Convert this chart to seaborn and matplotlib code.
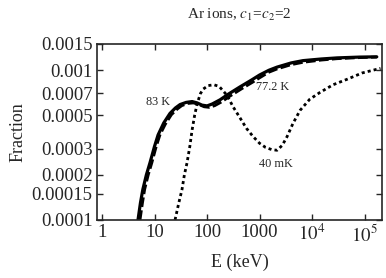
import matplotlib
matplotlib.use("Agg")
import matplotlib.pyplot as plt
import matplotlib.ticker as mticker
import seaborn as sns
import pandas as pd

# 83 K (solid)
e_83 = [4.85, 5.4, 6.0, 7.0, 8.2, 10, 11.7, 15, 19.7, 25, 30.6, 40, 52, 65, 80, 100, 125,
        177, 250, 425, 700, 1000, 1500, 2150, 4000, 6700, 15000, 30000, 80000, 170000]
f_83 = [1.0e-4, 1.3e-4, 1.6e-4, 2.0e-4, 2.41e-4, 3.1e-4, 3.7e-4, 4.45e-4, 5.15e-4, 5.6e-4, 5.9e-4,
        6.1e-4, 6.18e-4, 6.05e-4, 5.85e-4, 5.78e-4, 5.95e-4, 6.35e-4, 6.9e-4, 7.75e-4, 8.6e-4,
        9.3e-4, 1.0e-3, 1.05e-3, 1.12e-3, 1.16e-3, 1.19e-3, 1.21e-3, 1.225e-3, 1.23e-3]

# 77.2 K (dashed)
e_77 = [5.3, 5.9, 6.5, 7.6, 8.9, 10.8, 12.7, 16, 21, 27, 33, 43, 55, 70, 88, 110, 140,
        190, 270, 450, 750, 1000, 1500, 2150, 4000, 6700, 15000, 30000, 80000, 170000]
f_77 = [1.0e-4, 1.3e-4, 1.6e-4, 2.0e-4, 2.41e-4, 3.1e-4, 3.7e-4, 4.35e-4, 5.05e-4, 5.5e-4, 5.8e-4,
        6.0e-4, 6.05e-4, 5.9e-4, 5.7e-4, 5.65e-4, 5.8e-4, 6.15e-4, 6.7e-4, 7.5e-4, 8.35e-4,
        8.9e-4, 9.7e-4, 1.02e-3, 1.09e-3, 1.13e-3, 1.17e-3, 1.195e-3, 1.215e-3, 1.225e-3]

# 40 mK (dotted)
e_40 = [24.6, 29, 33.4, 37, 41.6, 47, 52, 58, 65, 75, 85, 105, 135, 170, 240, 313, 425, 560,
        755, 1000, 1300, 1700, 2150, 2700, 3330, 4300, 5900, 9000, 14000, 25000, 46000, 90000, 200000]
f_40 = [1.0e-4, 1.3e-4, 1.6e-4, 2.0e-4, 2.41e-4, 3.1e-4, 4.0e-4, 5.0e-4, 6.0e-4, 7.0e-4, 7.5e-4,
        7.9e-4, 8.0e-4, 7.8e-4, 6.8e-4, 5.7e-4, 4.8e-4, 4.1e-4, 3.6e-4, 3.25e-4, 3.05e-4, 2.95e-4,
        2.92e-4, 3.15e-4, 3.6e-4, 4.4e-4, 5.4e-4, 6.4e-4, 7.1e-4, 8.0e-4, 8.7e-4, 9.6e-4, 1.03e-3]

x_ticks = [1, 10, 100, 1000, 1e4, 1e5]
x_labels = ["1", "10", "100", "1000", r"$10^4$", r"$10^5$"]
y_ticks = [0.0001, 0.00015, 0.0002, 0.0003, 0.0005, 0.0007, 0.001, 0.0015]
y_labels = ["0.0001", "0.00015", "0.0002", "0.0003", "0.0005", "0.0007", "0.001", "0.0015"]

sns.set_style("ticks")
plt.rcParams["font.family"] = ["Liberation Serif", "DejaVu Serif"]
plt.rcParams["mathtext.fontset"] = "stix"

df = pd.concat([
    pd.DataFrame({"E": e_83, "frac": f_83, "T": "83 K"}),
    pd.DataFrame({"E": e_77, "frac": f_77, "T": "77.2 K"}),
    pd.DataFrame({"E": e_40, "frac": f_40, "T": "40 mK"}),
], ignore_index=True)

fig = plt.figure(figsize=(3.86, 2.78), dpi=100)
ax = fig.add_axes([0.251, 0.209, 0.739, 0.633])

sns.lineplot(data=df, x="E", y="frac", hue="T", style="T",
             palette={"83 K": "black", "77.2 K": "black", "40 mK": "black"},
             dashes={"83 K": "", "77.2 K": (3.5, 1.2), "40 mK": (1.1, 1.1)},
             size="T", sizes={"83 K": 2.3, "77.2 K": 2.0, "40 mK": 2.0},
             sort=False, legend=False, ax=ax)

ax.set_xscale("log")
ax.set_yscale("log")
ax.set_xlim(0.8, 2.15e5)
ax.set_ylim(1e-4, 1.5e-3)
ax.xaxis.set_major_locator(mticker.FixedLocator(x_ticks))
ax.xaxis.set_major_formatter(mticker.FixedFormatter(x_labels))
ax.xaxis.set_minor_locator(mticker.NullLocator())
ax.yaxis.set_major_locator(mticker.FixedLocator(y_ticks))
ax.yaxis.set_major_formatter(mticker.FixedFormatter(y_labels))
ax.yaxis.set_minor_locator(mticker.NullLocator())
ax.tick_params(direction="in", top=True, right=True, labelsize=13.5, length=4, width=1, pad=3)
for s in ax.spines.values():
    s.set_linewidth(1.2)

ax.set_xlabel("E (keV)", fontsize=13, labelpad=6)
ax.set_ylabel("Fraction", fontsize=13, labelpad=4)
ax.set_title(r"Ar ions, $c_1$=$c_2$=2", fontsize=11, pad=18)

ax.text(11.7, 6.1e-4, "83 K", fontsize=8.8, ha="center", va="center")
ax.text(1800, 7.75e-4, "77.2 K", fontsize=8.8, ha="center", va="center")
ax.text(2000, 2.38e-4, "40 mK", fontsize=8.8, ha="center", va="center")

fig.savefig("out.png", dpi=100)
